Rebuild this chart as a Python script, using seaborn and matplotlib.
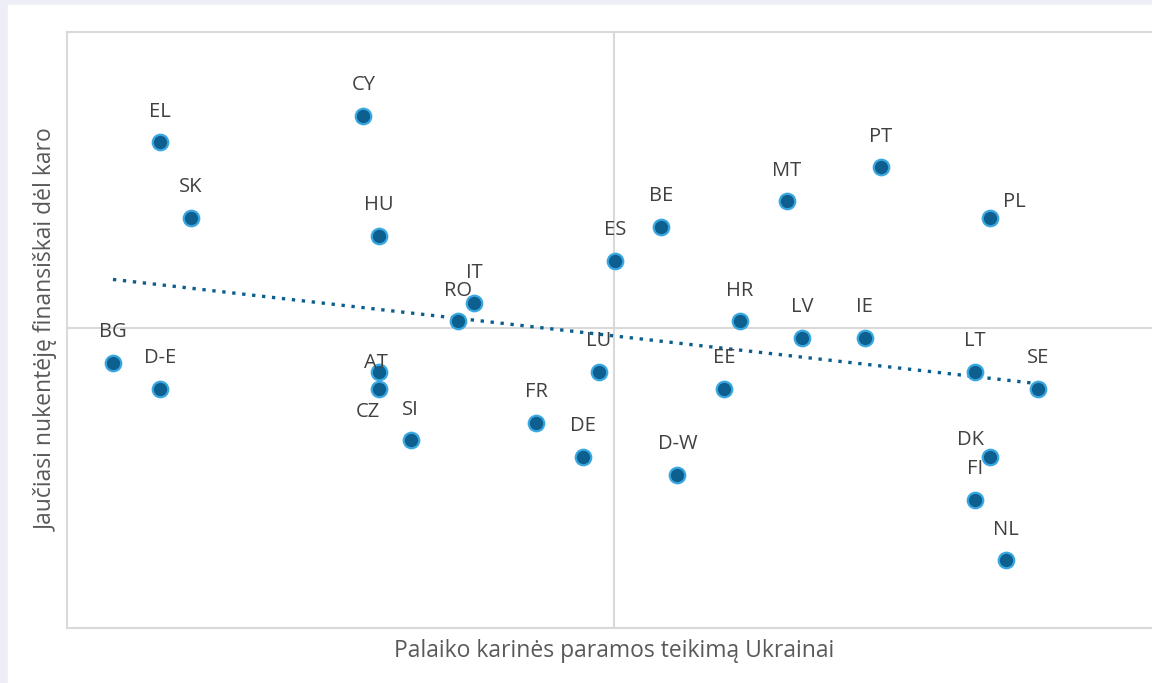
import matplotlib
matplotlib.use("Agg")
import matplotlib.pyplot as plt
import seaborn as sns
import pandas as pd

# country codes and the two survey shares (%)
countries = ["BG", "D-E", "EL", "SK", "CY", "HU", "AT", "CZ", "SI", "RO",
             "IT", "FR", "DE", "LU", "ES", "BE", "D-W", "EE", "HR", "MT",
             "LV", "IE", "PT", "LT", "SE", "PL", "DK", "FI", "NL"]
support = [4.2, 8.5, 8.5, 11.3, 27.1, 28.5, 28.5, 28.5, 31.4, 35.7,
           37.2, 42.9, 47.2, 48.6, 50.1, 54.3, 55.8, 60.1, 61.5, 65.8,
           67.2, 72.9, 74.4, 83.0, 88.8, 84.4, 84.4, 83.0, 85.8]
affected = [44.5, 40.1, 81.5, 68.8, 85.9, 65.8, 43.0, 40.1, 31.5, 51.5,
            54.5, 34.4, 28.7, 43.0, 61.6, 67.3, 25.7, 40.1, 51.5, 71.6,
            48.7, 48.7, 77.3, 43.0, 40.1, 68.8, 28.7, 21.5, 11.4]

x_mid = 50.0
y_mid = 50.3

df = pd.DataFrame({"country": countries, "support": support, "affected": affected})

sns.set_style("white")
plt.rcParams["font.family"] = ["Open Sans", "DejaVu Sans"]

fig = plt.figure(figsize=(11.52, 6.83), dpi=100, facecolor="#eeeef7")
# white card over the pale background
card = plt.Rectangle((8 / 1152, 0), 1, 1 - 5 / 683,
                     transform=fig.transFigure, color="white", zorder=-5)
fig.patches.append(card)

ax = fig.add_axes([67 / 1152, 55 / 683, 1094 / 1152, 596 / 683])
ax.set_zorder(2)
ax.set_facecolor("white")

ax.axvline(x_mid, color="#d9d9d9", lw=1.5, zorder=1)
ax.axhline(y_mid, color="#d9d9d9", lw=1.5, zorder=1)

sns.regplot(data=df, x="support", y="affected", ax=ax, scatter=False, ci=None,
            truncate=True, line_kws={"color": "#0b5e8e", "lw": 2.4, "ls": (0, (1, 2))})
sns.scatterplot(data=df, x="support", y="affected", ax=ax, s=125,
                color="#0c5f8e", edgecolor="#3aa8e0", linewidth=1.6, zorder=3)

# label offsets in points (most labels sit above the marker)
offsets = {"AT": (-2, 6.5), "CZ": (-8, -16.5), "PL": (17, 11.5), "DK": (-14, 12)}
for c, xv, yv in zip(countries, support, affected):
    dx, dy = offsets.get(c, (0, 22))
    ax.annotate(c, (xv, yv), xytext=(dx, dy), textcoords="offset points",
                ha="center", va="center", fontsize=14.5, color="#404040", zorder=4)

for s in ax.spines.values():
    s.set_color("#d9d9d9")
    s.set_linewidth(1.5)
ax.set_xticks([])
ax.set_yticks([])
ax.set_xlim(0, 100)
ax.set_ylim(0, 100)
ax.set_xlabel("Palaiko karinės paramos teikimą Ukrainai", fontsize=16.5,
              color="#595959", labelpad=8)
ax.set_ylabel("Jaučiasi nukentėję finansiškai dėl karo", fontsize=16.5,
              color="#595959", labelpad=6)

fig.savefig("out.png", dpi=100, facecolor=fig.get_facecolor())
